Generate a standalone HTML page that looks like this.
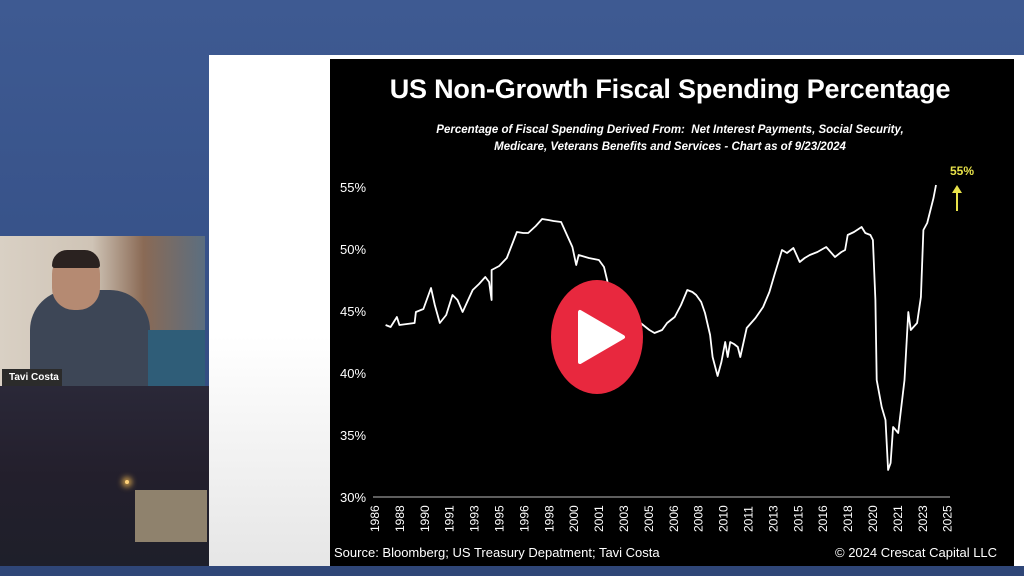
<!DOCTYPE html>
<html><head><meta charset="utf-8"><style>
body{margin:0;width:1024px;height:576px;overflow:hidden;position:relative;font-family:"Liberation Sans",sans-serif;background:linear-gradient(#3e5a92 0,#38538a 40%,#2f4677 100%);}
.abs{position:absolute}
</style></head><body>
<div class="abs" style="left:209px;top:55px;width:815px;height:511px;background:linear-gradient(#fff 0,#fff 55%,#e6e6e6 100%);"></div>
<div class="abs" style="left:0;top:236px;width:205px;height:150px;background:linear-gradient(90deg,#d9d0c4 0,#cfc4b6 45%,#8a6a55 70%,#5b6e80 100%);"></div>
<div class="abs" style="left:30px;top:290px;width:120px;height:96px;background:#3d4656;border-radius:40px 40px 0 0;"></div>
<div class="abs" style="left:52px;top:252px;width:48px;height:58px;background:#b58a72;border-radius:22px;"></div>
<div class="abs" style="left:52px;top:250px;width:48px;height:18px;background:#2a2220;border-radius:22px 22px 4px 4px;"></div>
<div class="abs" style="left:148px;top:330px;width:57px;height:56px;background:#2f5d78;"></div>
<div class="abs" style="left:2px;top:369px;width:60px;height:17px;background:#2b2b2b;color:#fff;font-size:10px;font-weight:bold;line-height:17px;padding-left:7px;box-sizing:border-box;">Tavi Costa</div>
<div class="abs" style="left:0;top:386px;width:209px;height:180px;background:linear-gradient(#2a2838 0,#231f2c 50%,#1e1f2a 100%);"></div>
<div class="abs" style="left:135px;top:490px;width:72px;height:52px;background:#8f826d;"></div>
<div class="abs" style="left:125px;top:480px;width:4px;height:4px;background:#ffd27a;border-radius:50%;box-shadow:0 0 6px 3px #c89a4a;"></div>
<div class="abs" style="left:330px;top:59px;width:684px;height:507px;background:#000;"></div>
<div class="abs" style="left:1014px;top:59px;width:10px;height:507px;background:#fff;"></div>
<div class="abs" style="left:330px;top:74px;width:680px;text-align:center;color:#fff;font-size:27px;font-weight:bold;letter-spacing:-0.2px;">US Non-Growth Fiscal Spending Percentage</div>
<div class="abs" style="left:330px;top:122px;width:680px;text-align:center;color:#fff;font-size:11.5px;font-weight:bold;font-style:italic;line-height:17px;">Percentage of Fiscal Spending Derived From:&nbsp; Net Interest Payments, Social Security,<br>Medicare, Veterans Benefits and Services - Chart as of 9/23/2024</div>
<svg class="abs" style="left:0;top:0" width="1024" height="576">
<g fill="#fff" font-size="13" font-family="Liberation Sans">
<text x="340" y="192">55%</text><text x="340" y="254">50%</text><text x="340" y="316">45%</text><text x="340" y="378">40%</text><text x="340" y="440">35%</text><text x="340" y="502">30%</text>
</g>
<line x1="373" y1="497" x2="950" y2="497" stroke="#bbb" stroke-width="1"/>
<g fill="#fff" font-size="12" font-family="Liberation Sans" id="yrs"></g>
<polyline fill="none" stroke="#fff" stroke-width="1.8" stroke-linejoin="round" points="385.6,325 390.6,327 396.9,317 399.4,325 414.6,323 415.9,312 423.4,309 431,288 434.8,305 439.8,323 446.2,315 452.5,295 457.5,300 462.6,312 472.7,290 479,284 485.3,277 489.1,282 491.6,300 491.6,270 499.2,266 506.8,258 516.9,232 523.2,233 528.2,233 535.8,226 542.1,219 548.4,220 553.5,221 561.1,222 567.4,236 572.4,247 576.2,265 578.7,255 588.8,258 598.9,260 604,267 607.8,283 617.9,298 628,312 639.3,322 649.4,330 654.5,333 662.1,330 667.1,323 674.7,317 681,305 687.3,290 692.4,292 696.2,295 701.2,302 705,313 710.1,335 712.6,357 717.6,376 721.4,362 725.2,342 727.7,357 730.2,342 734,344 737.8,347 740.3,357 746.7,328 755.5,318 763.1,307 769.4,292 774.4,275 782,250 787,253 793.4,248 799.7,262 804.7,258 809.8,255 817.4,252 826.2,247 835,257 841.4,252 845.1,250 847.7,235 854,232 861.6,227 865.3,233 870.4,235 872.9,240 875.4,300 876.7,380 881.7,407 885.5,420 888.1,470 890.6,463 893.1,427 898.2,433 904.5,380 908.3,312 910.8,330 917.1,323 920.9,297 923.4,230 927.2,223 933.5,198 936,185"/>
<text x="950" y="175" fill="#e8e24a" font-size="12" font-weight="bold" font-family="Liberation Sans">55%</text>
<line x1="957" y1="211" x2="957" y2="190" stroke="#e8e24a" stroke-width="2"/>
<polygon points="952,193 962,193 957,185" fill="#e8e24a"/>
<ellipse cx="597" cy="337" rx="46" ry="57" fill="#e8283e"/>
<polygon points="580,312 580,362 623,337" fill="#fff" stroke="#fff" stroke-width="4" stroke-linejoin="round"/>
</svg>
<div class="abs" style="left:334px;top:545px;color:#fff;font-size:13px;">Source: Bloomberg; US Treasury Depatment; Tavi Costa</div>
<div class="abs" style="left:835px;top:545px;color:#fff;font-size:13px;">© 2024 Crescat Capital LLC</div>
<script>
var y=[1986,1988,1990,1991,1993,1995,1996,1998,2000,2001,2003,2005,2006,2008,2010,2011,2013,2015,2016,2018,2020,2021,2023,2025],g=document.getElementById('yrs'),s='';
y.forEach(function(v,i){var x=379+i*24.9;s+='<text transform="translate('+x+',532) rotate(-90)">'+v+'</text>';});
g.innerHTML=s;
</script>
</body></html>
